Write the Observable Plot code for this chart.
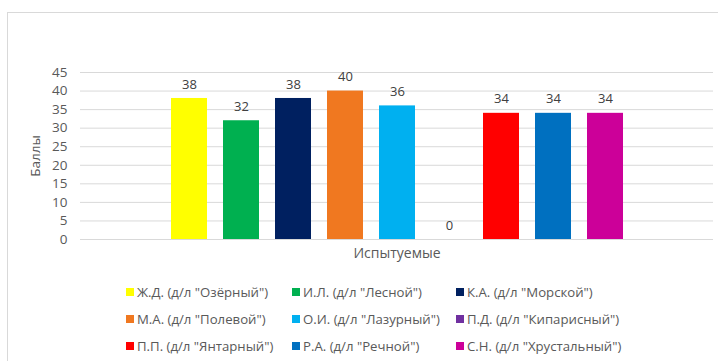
<!DOCTYPE html>
<html><head><meta charset="utf-8">
<script src="https://cdn.jsdelivr.net/npm/d3@7"></script>
<script src="https://cdn.jsdelivr.net/npm/@observablehq/plot@0.6"></script>
<style>
body{margin:0;background:#fff;font-family:"Open Sans",sans-serif;}
#wrap{position:relative;width:718px;height:361px;overflow:hidden;background:#fff;}
#frame{position:absolute;left:7px;top:12px;width:740px;height:380px;border:1px solid #d9d9d9;box-sizing:border-box;}
#chart{position:absolute;left:0;top:0;}
#legend{position:absolute;left:0;top:278px;width:718px;display:grid;grid-template-columns:166px 164px 230px;padding-left:126px;box-sizing:border-box;}
.item{height:27px;display:flex;align-items:center;font-size:13.2px;color:#595959;white-space:nowrap;}
.sw{width:8px;height:8px;margin-right:3px;flex:none;}
</style></head>
<body><div id="wrap"><div id="frame"></div><div id="chart"></div><div id="legend"></div></div>
<script>
const names = ['Ж.Д. (д/л "Озёрный")','И.Л. (д/л "Лесной")','К.А. (д/л "Морской")','М.А. (д/л "Полевой")','О.И. (д/л "Лазурный")','П.Д. (д/л "Кипарисный")','П.П. (д/л "Янтарный")','Р.А. (д/л "Речной")','С.Н. (д/л "Хрустальный")'];
const scores = [38,32,38,40,36,0,34,34,34];
const colors = ["#FFFF00","#00B050","#002060","#F07820","#00B0F0","#7030A0","#FF0000","#0070C0","#CC0099"];
const yTicks = [0,5,10,15,20,25,30,35,40,45];
const data = names.map((n,i)=>({name:n,score:scores[i]}));
const txt = "#595959";
const chart = Plot.plot({
  width:718, height:265,
  marginTop:72, marginBottom:26, marginLeft:80, marginRight:5,
  style:{fontFamily:"Open Sans, sans-serif", fontSize:"13px", color:txt, background:"transparent"},
  x:{domain:names, range:[163,631], paddingInner:0.31, paddingOuter:0.155, axis:null},
  y:{domain:[0,45]},
  color:{domain:names, range:colors},
  marks:[
    Plot.ruleY(yTicks,{stroke:"#d9d9d9", strokeWidth:1}),
    Plot.axisY({ticks:yTicks, tickSize:0, tickPadding:13, label:"Баллы", labelAnchor:"center", labelArrow:"none", labelOffset:50, fontSize:13.5}),
    Plot.axisX({ticks:[], label:"Испытуемые", labelAnchor:"center", labelArrow:"none", labelOffset:18, fontSize:14}),
    Plot.barY(data,{x:"name", y:"score", fill:"name"}),
    Plot.text(data,{x:"name", y:"score", text:d=>String(d.score), dy:-14, fill:"#404040", fontSize:13})
  ]
});
document.getElementById("chart").appendChild(chart);
const leg = d3.select("#legend");
names.forEach((n,i)=>{
  const it = leg.append("div").attr("class","item");
  it.append("span").attr("class","sw").style("background",colors[i]);
  it.append("span").text(n);
});
</script></body></html>
